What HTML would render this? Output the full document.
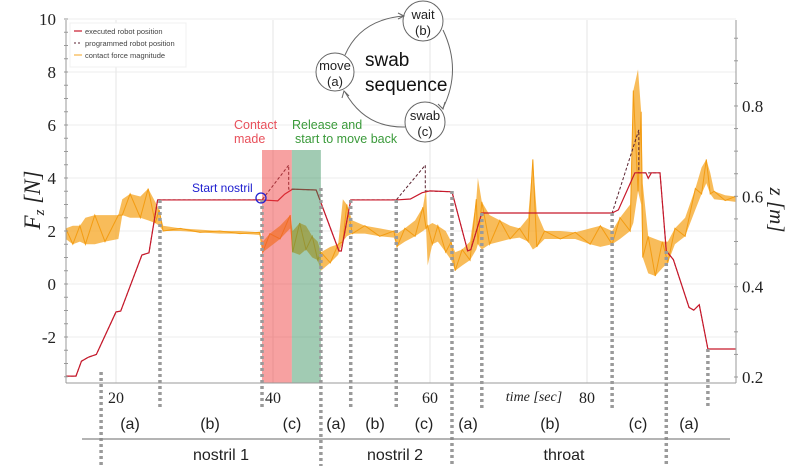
<!DOCTYPE html>
<html><head><meta charset="utf-8">
<style>
html,body{margin:0;padding:0;background:#fff;}
svg{display:block;font-family:"Liberation Sans",sans-serif;}
.serif{font-family:"Liberation Serif",serif;}
</style></head>
<body>
<svg id="chart" width="797" height="466" viewBox="0 0 797 466" xmlns="http://www.w3.org/2000/svg">
<g id="grid"></g>
<g id="marks"></g>
<g id="axes"></g>
<g id="anno"></g>
</svg>
<script>
// ---- data ----
const fT  = [13.6,14.5,15.4,16.1,17.3,18.6,20.3,20.8,21.8,23.1,24.1,25.0,25.5,26.0,28.2,30.7,33.2,35.8,38.3,38.7,39.6,40.9,42.2,42.5,43.4,44.2,45.0,45.7,46.1,47.3,48.3,48.9,49.4,50.1,51.7,53.6,55.4,55.8,56.8,58.1,59.1,59.5,59.7,60.3,61.0,62.0,62.7,63.2,64.1,65.1,65.9,66.1,66.6,67.6,68.9,70.2,71.4,72.5,73.1,73.6,74.6,76.6,78.5,80.4,81.7,83.2,84.2,85.5,85.9,86.5,86.9,87.1,87.8,88.7,89.6,90.3,91.2,92.5,93.8,94.6,95.2,95.7,96.2,97.6,98.9];
const fLo = [1.7,1.5,1.6,1.5,1.5,1.6,1.7,2.6,2.5,2.5,2.4,2.3,2.2,2.0,2.0,1.95,1.9,1.9,1.85,1.2,1.4,1.7,2.1,1.2,1.1,1.3,1.0,0.9,0.5,0.8,1.1,1.6,1.8,1.9,1.9,1.8,1.75,1.4,1.6,1.8,2.0,2.1,0.7,1.5,1.6,1.2,0.9,0.5,0.7,0.9,1.3,1.5,1.3,1.5,1.6,1.7,1.75,1.6,1.3,1.4,1.7,1.7,1.7,1.5,1.4,1.5,1.7,2.0,2.3,3.5,3.0,1.0,0.4,0.3,0.6,0.8,1.5,1.8,2.8,3.4,3.8,3.4,3.2,3.15,3.1];
const fHi = [2.1,2.2,2.2,2.5,2.6,2.6,2.6,3.2,3.4,3.3,3.6,3.1,2.8,2.2,2.1,2.05,2.0,2.0,1.95,1.6,1.9,2.2,2.6,2.0,2.3,2.2,1.8,1.6,1.2,1.4,1.5,3.2,3.0,2.4,2.2,2.1,2.0,1.9,2.1,2.4,2.9,3.6,2.2,2.3,2.2,2.0,1.6,1.2,1.3,1.6,3.2,4.0,3.1,2.6,2.4,2.2,2.1,2.5,4.7,2.7,2.0,2.0,1.95,2.1,2.2,2.0,2.5,3.0,7.3,8.1,6.5,3.8,1.8,1.7,1.6,1.6,2.1,2.5,3.6,4.4,4.7,4.2,3.5,3.35,3.3];
const exT = [13.6,14.9,15.6,16.5,17.5,20.0,20.6,23.3,24.2,25.3,38.6,40.6,41.5,42.5,45.5,48.4,48.7,49.9,55.7,57.5,59.0,60.0,62.8,64.8,65.2,66.6,83.2,84.0,86.1,87.5,87.8,88.2,89.3,90.1,91.0,93.0,93.6,94.3,95.4,98.9];
const exZ = [0.202,0.202,0.235,0.244,0.250,0.344,0.346,0.470,0.475,0.592,0.592,0.590,0.605,0.616,0.614,0.479,0.479,0.592,0.592,0.594,0.608,0.612,0.610,0.479,0.482,0.563,0.563,0.570,0.652,0.652,0.640,0.652,0.652,0.479,0.460,0.354,0.348,0.360,0.262,0.262];
const pgT = [13.6,14.9,15.6,16.5,17.5,20.0,20.6,23.3,24.2,25.3,38.6,42.0,42.0,45.5,48.4,48.7,49.9,55.7,59.4,59.4,62.8,64.8,65.2,66.6,83.2,86.6,86.6,89.3,90.1,91.0,93.0,93.6,94.3,95.4,98.9];
const pgZ = [0.202,0.202,0.235,0.244,0.250,0.344,0.346,0.470,0.475,0.592,0.592,0.669,0.616,0.614,0.479,0.479,0.592,0.592,0.669,0.612,0.610,0.479,0.482,0.563,0.563,0.747,0.652,0.652,0.479,0.460,0.354,0.348,0.360,0.262,0.262];
const leftTicks = [10,8,6,4,2,0,-2];
const rightTicks = [0.2,0.4,0.6,0.8];
const xTicks = [20,40,60,80];
const phaseT = [18.1,25.6,38.6,46.1,49.9,55.7,62.8,66.6,83.2,90.1,95.4];
const contactT = [38.6,42.4];
const releaseT = [42.4,46.1];

// ---- scales ----
const X0=66, X1=736, YT=20, YB=383;
const xS = t => 116 + (t-20)*7.85;
const yF = f => 284 - f*26.5;
const yZ = z => 377 - (z-0.2)*451.7;
const NS="http://www.w3.org/2000/svg";
function mk(tag, attrs, parent, text){
  const e=document.createElementNS(NS,tag);
  for(const k in attrs) e.setAttribute(k,attrs[k]);
  if(text!==undefined) e.textContent=text;
  parent.appendChild(e); return e;
}
const grid=document.getElementById('grid'), marks=document.getElementById('marks'),
      axes=document.getElementById('axes'), anno=document.getElementById('anno');

// grid
leftTicks.forEach(v=>{
  const l=mk('line',{x1:X0,x2:X1,y1:yF(v),y2:yF(v),stroke:'#ececec','stroke-width':1},grid);
  
  
});
xTicks.forEach(v=>{
  const l=mk('line',{x1:xS(v),x2:xS(v),y1:YT,y2:YB,stroke:'#e6e6e6','stroke-width':1},grid);
  
  
});

// force band
let up='', dn='';
fT.forEach((t,i)=>{ up+=`${xS(t)},${yF(fHi[i])} `; });
for(let i=fT.length-1;i>=0;i--){ dn+=`${xS(fT[i])},${yF(fLo[i])} `; }
const band=mk('polygon',{points:up+dn,fill:'#f6a623','fill-opacity':0.75,stroke:'none'},marks);


let zz='';
fT.forEach((t,i)=>{ zz+=`${xS(t)},${yF(i%2?fLo[i]:fHi[i])} `; });
const fl=mk('polyline',{points:zz,fill:'none',stroke:'#f39c12','stroke-width':1},marks);



// programmed & executed
const pg=mk('polyline',{points:pgT.map((t,i)=>`${xS(t)},${yZ(pgZ[i])}`).join(' '),fill:'none',stroke:'#5a2230','stroke-width':1,'stroke-dasharray':'3,2'},marks);


const ex=mk('polyline',{points:exT.map((t,i)=>`${xS(t)},${yZ(exZ[i])}`).join(' '),fill:'none',stroke:'#c8192b','stroke-width':1.2},marks);



// shaded regions (overlay)
const rc=mk('rect',{x:xS(contactT[0]),y:150,width:xS(contactT[1])-xS(contactT[0]),height:YB-150,fill:'#ee3b3b','fill-opacity':0.48},marks);


const rg=mk('rect',{x:xS(releaseT[0]),y:150,width:xS(releaseT[1])-xS(releaseT[0]),height:YB-150,fill:'#2e8b57','fill-opacity':0.45},marks);



// phase dashed lines
const phaseTop=[372,200,200,188,200,200,191,213,213,251,349];
const phaseBot=[466,408,408,466,408,408,466,408,408,466,408];
phaseT.forEach((t,i)=>{
  const l=mk('line',{x1:xS(t),x2:xS(t),y1:phaseTop[i],y2:phaseBot[i],stroke:'#9a9a9a','stroke-width':3.5,'stroke-dasharray':'3,3'},anno);
  
  
});

// axes
mk('line',{x1:X0,x2:X0,y1:YT,y2:YB,stroke:'#999','stroke-width':1},axes);
mk('line',{x1:X1,x2:X1,y1:YT,y2:YB,stroke:'#999','stroke-width':1},axes);
mk('line',{x1:X0,x2:X1,y1:YB,y2:YB,stroke:'#999','stroke-width':1},axes);
for(let v=-3.5;v<=10;v+=0.5){ mk('line',{x1:X0-2,x2:X0+2,y1:yF(v),y2:yF(v),stroke:'#999','stroke-width':1},axes); }
for(let v=0.2;v<=0.99;v+=0.05){ mk('line',{x1:X1-2,x2:X1+2,y1:yZ(v),y2:yZ(v),stroke:'#999','stroke-width':1},axes); }
leftTicks.forEach(v=>{
  const t=mk('text',{x:56,y:yF(v)+6,'text-anchor':'end','font-size':17,fill:'#222',class:'serif'},axes,String(v));
  
  
});
rightTicks.forEach(v=>{
  const t=mk('text',{x:742,y:yZ(v)+6,'font-size':17,fill:'#222',class:'serif'},axes,v.toFixed(1));
  
  
});
xTicks.forEach(v=>{
  const t=mk('text',{x:xS(v),y:403,'text-anchor':'middle','font-size':16,fill:'#222',class:'serif'},axes,String(v));
  
  
});
</script>
<svg style="position:absolute;left:0;top:0" width="797" height="466">
  <text x="534" y="401" text-anchor="middle" font-size="14" font-style="italic" font-family="Liberation Serif,serif" fill="#222">time [sec]</text>
  <text transform="translate(40,200) rotate(-90)" text-anchor="middle" font-size="23" font-style="italic" font-family="Liberation Serif,serif" fill="#222">F<tspan font-size="15" dy="4">z</tspan><tspan dy="-4"> [N]</tspan></text>
  <text transform="translate(770,210) rotate(90)" text-anchor="middle" font-size="21" font-style="italic" font-family="Liberation Serif,serif" fill="#222">z [m]</text>

  <g>
    <rect x="70" y="23" width="116" height="44" fill="#fff" stroke="#f0f0f0"/>
    <line x1="74" y1="31" x2="82" y2="31" stroke="#c8192b" stroke-width="1.2"/>
    <text x="85" y="34" font-size="7.5" fill="#444">executed robot position</text>
    <line x1="74" y1="43" x2="82" y2="43" stroke="#5a2230" stroke-dasharray="2,2"/>
    <text x="85" y="46" font-size="7.5" fill="#444">programmed robot position</text>
    <line x1="74" y1="55" x2="82" y2="55" stroke="#f6a623"/>
    <text x="85" y="58" font-size="7.5" fill="#444">contact force magnitude</text>
  </g>

  <g fill="none" stroke="#666" stroke-width="1">
    <circle cx="335" cy="72" r="19" fill="#fff"/>
    <circle cx="423" cy="21" r="20" fill="#fff"/>
    <circle cx="425" cy="122" r="20" fill="#fff"/>
    <path d="M345,55 Q360,20 403,16"/>
    <path d="M443,30 Q462,70 443,108"/>
    <path d="M405,127 Q365,128 345,92"/>
    <path d="M398,13 L404,16 L398,19" />
    <path d="M438,104 L443,109 L445,102"/>
    <path d="M342,98 L344,91 L349,96"/>
  </g>
  <g font-size="13" fill="#222" text-anchor="middle">
    <text x="335" y="70">move</text><text x="335" y="86">(a)</text>
    <text x="423" y="19">wait</text><text x="423" y="35">(b)</text>
    <text x="425" y="120">swab</text><text x="425" y="136">(c)</text>
  </g>
  <text x="365" y="66" font-size="19" fill="#111">swab</text>
  <text x="365" y="91" font-size="19" fill="#111">sequence</text>

  <text x="234" y="129" font-size="12.5" fill="#e8505b">Contact</text>
  <text x="234" y="143" font-size="12.5" fill="#e8505b">made</text>
  <text x="292" y="129" font-size="12.5" fill="#3a9a3a">Release and</text>
  <text x="295" y="143" font-size="12.5" fill="#3a9a3a">start to move back</text>
  <text x="192" y="192" font-size="12" fill="#2020d0">Start nostril</text>
  <circle cx="261" cy="198" r="5" fill="none" stroke="#2020d0" stroke-width="1.3"/>

  <g font-size="16" fill="#222" text-anchor="middle">
    <text x="130" y="429">(a)</text><text x="210" y="429">(b)</text><text x="292" y="429">(c)</text>
    <text x="336" y="429">(a)</text><text x="375" y="429">(b)</text><text x="424" y="429">(c)</text>
    <text x="468" y="429">(a)</text><text x="550" y="429">(b)</text><text x="638" y="429">(c)</text>
    <text x="689" y="429">(a)</text>
  </g>
  <line x1="82" y1="439" x2="730" y2="439" stroke="#888" stroke-width="1.2"/>
  <g font-size="16" fill="#222" text-anchor="middle">
    <text x="221" y="460">nostril 1</text>
    <text x="395" y="460">nostril 2</text>
    <text x="564" y="460">throat</text>
  </g>
</svg>
</body></html>
